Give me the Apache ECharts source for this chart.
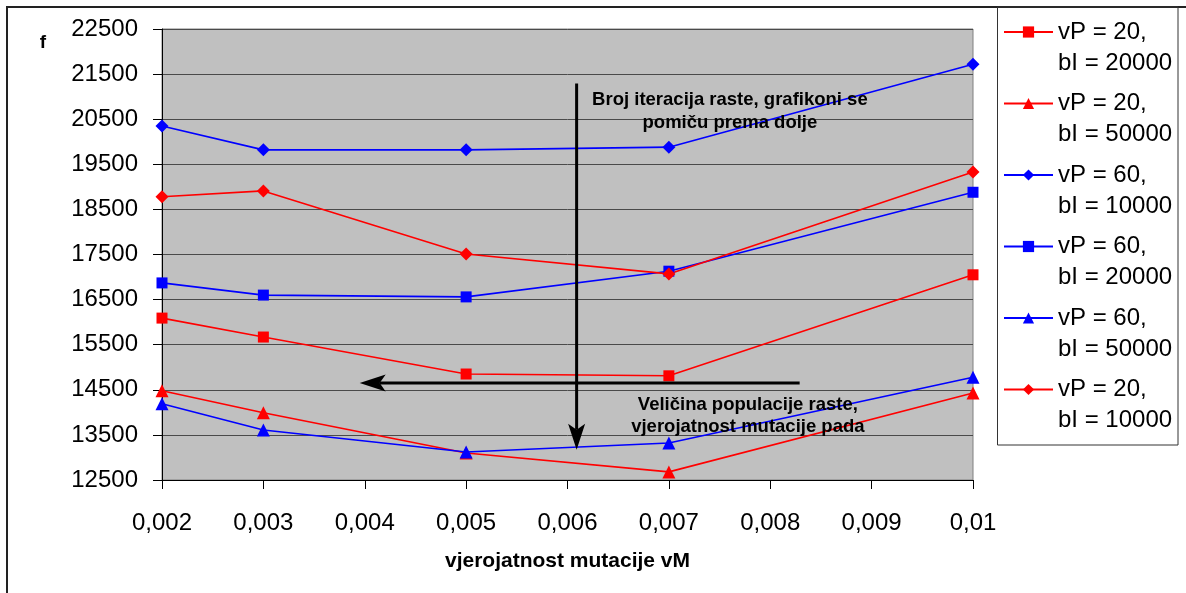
<!DOCTYPE html>
<html>
<head>
<meta charset="utf-8">
<script src="https://cdn.jsdelivr.net/npm/echarts@6/dist/echarts.min.js"></script>
<style>
  html, body { margin: 0; padding: 0; background: #ffffff; }
  #chart { width: 1186px; height: 593px; }
</style>
</head>
<body>
<div id="chart"></div>
<script>
// Mutation probability vM (x axis)
const mutationRates = [0.002, 0.003, 0.005, 0.007, 0.01];

// Fitness f for each population size vP / iteration count bI
const vP20_bI20000 = [16090, 15670, 14850, 14810, 17050];
const vP20_bI50000 = [14480, 13990, 13100, 12680, 14430];
const vP60_bI10000 = [20350, 19820, 19820, 19880, 21720];
const vP60_bI20000 = [16870, 16600, 16560, 17130, 18880];
const vP60_bI50000 = [14190, 13610, 13120, 13320, 14780];
const vP20_bI10000 = [18780, 18910, 17510, 17070, 19330];

const seriesNames = [
  'vP = 20,\nbI = 20000',
  'vP = 20,\nbI = 50000',
  'vP = 60,\nbI = 10000',
  'vP = 60,\nbI = 20000',
  'vP = 60,\nbI = 50000',
  'vP = 20,\nbI = 10000'
];
const seriesValues = [vP20_bI20000, vP20_bI50000, vP60_bI10000, vP60_bI20000, vP60_bI50000, vP20_bI10000];

const RED = '#ff0000', BLUE = '#0000ff';
const seriesLook = [
  { color: RED,  symbol: 'rect',     size: 11 },
  { color: RED,  symbol: 'triangle', size: 13 },
  { color: BLUE, symbol: 'diamond',  size: 13 },
  { color: BLUE, symbol: 'rect',     size: 11 },
  { color: BLUE, symbol: 'triangle', size: 13 },
  { color: RED,  symbol: 'diamond',  size: 13 }
];

const FONT = 'Liberation Sans, Arial, sans-serif';

const chart = echarts.init(document.getElementById('chart'), null, { renderer: 'canvas' });

const series = seriesNames.map((name, i) => ({
  name: name,
  type: 'line',
  data: mutationRates.map((x, j) => [x, seriesValues[i][j]]),
  symbol: seriesLook[i].symbol,
  symbolSize: seriesLook[i].size,
  showAllSymbol: true,
  lineStyle: { color: seriesLook[i].color, width: 1.6 },
  itemStyle: { color: seriesLook[i].color },
  emphasis: { disabled: true },
  animation: false,
  z: 3
}));

chart.setOption({
  animation: false,
  grid: {
    left: 162, right: 213, top: 29, bottom: 113,
    show: true,
    backgroundColor: '#c0c0c0',
    borderColor: '#808080',
    borderWidth: 1
  },
  legend: {
    orient: 'vertical',
    left: 1003,
    top: -14.5,
    padding: 0,
    itemGap: -21.5,
    itemWidth: 49,
    itemHeight: 14,
    selectedMode: false,
    data: seriesNames,
    // an empty first line keeps the marker level with "vP = ..."
    formatter: name => '\n' + name,
    textStyle: {
      fontFamily: FONT,
      fontSize: 24,
      lineHeight: 31,
      color: '#000'
    }
  },
  xAxis: {
    type: 'value',
    min: 0.002,
    max: 0.01,
    interval: 0.001,
    name: 'vjerojatnost mutacije vM',
    nameLocation: 'middle',
    nameGap: 71,
    nameTextStyle: { fontFamily: FONT, fontSize: 21, fontWeight: 'bold', color: '#000' },
    axisLine: { show: true, lineStyle: { color: '#000', width: 1 } },
    axisTick: { show: true, length: 9, lineStyle: { color: '#000' } },
    splitLine: { show: false },
    axisLabel: {
      margin: 31,
      fontFamily: FONT,
      fontSize: 24,
      color: '#000',
      showMaxLabel: true,
      formatter: v => String(+v.toFixed(3)).replace('.', ',')
    }
  },
  yAxis: {
    type: 'value',
    min: 12500,
    max: 22500,
    interval: 1000,
    name: 'f',
    nameLocation: 'end',
    nameGap: -14,
    nameTextStyle: {
      fontFamily: FONT, fontSize: 19, fontWeight: 'bold', color: '#000',
      align: 'right', verticalAlign: 'middle', padding: [0, 116, 0, 0]
    },
    axisLine: { show: true, lineStyle: { color: '#000', width: 1 } },
    axisTick: { show: true, length: 9, lineStyle: { color: '#000' } },
    splitLine: { show: true, lineStyle: { color: '#4a4a4a', width: 1 } },
    axisLabel: {
      margin: 24,
      fontFamily: FONT,
      fontSize: 24,
      color: '#000',
      formatter: v => String(Math.round(v))
    }
  },
  series: series
});

// Annotation arrows and notes, placed in data coordinates
const toPx = p => chart.convertToPixel({ gridIndex: 0 }, p);

function arrow(from, to) {
  const a = toPx(from), b = toPx(to);
  const dx = b[0] - a[0], dy = b[1] - a[1];
  const len = Math.hypot(dx, dy);
  const ux = dx / len, uy = dy / len;      // direction
  const nx = -uy, ny = ux;                 // normal
  const headLen = 26, headHalf = 8.5, notch = 6;
  const back = [b[0] - ux * headLen, b[1] - uy * headLen];
  const mid = [b[0] - ux * (headLen - notch), b[1] - uy * (headLen - notch)];
  return [
    {
      type: 'polyline', z: 10,
      shape: { points: [a, mid] },
      style: { stroke: '#000', lineWidth: 3, fill: null }
    },
    {
      type: 'polygon', z: 10,
      shape: { points: [b, [back[0] + nx * headHalf, back[1] + ny * headHalf], mid, [back[0] - nx * headHalf, back[1] - ny * headHalf]] },
      style: { fill: '#000', stroke: null }
    }
  ];
}

function note(at, text, lineHeight) {
  const p = toPx(at);
  return {
    type: 'text', z: 11,
    x: p[0], y: p[1],
    style: {
      text: text,
      font: 'bold 18.5px ' + FONT,
      fill: '#000',
      align: 'center',
      verticalAlign: 'middle',
      lineHeight: lineHeight
    }
  };
}

chart.setOption({
  graphic: [
    // outer chart frame
    { type: 'rect', z: 0, shape: { x: 7, y: 7, width: 1400, height: 800 }, style: { fill: null, stroke: '#222', lineWidth: 2 } },
    // legend frame
    { type: 'rect', z: 0, shape: { x: 997.5, y: 7, width: 180.5, height: 438 }, style: { fill: null, stroke: '#333', lineWidth: 1 } },
    ...arrow([0.00609, 21290], [0.00609, 13170]),
    ...arrow([0.00829, 14650], [0.00395, 14650]),
    note([0.007602, 20671], 'Broj iteracija raste, grafikoni se\npomiču prema dolje', 23),
    note([0.007779, 13919], 'Veličina populacije raste,\nvjerojatnost mutacije pada', 22)
  ]
});
</script>
</body>
</html>
